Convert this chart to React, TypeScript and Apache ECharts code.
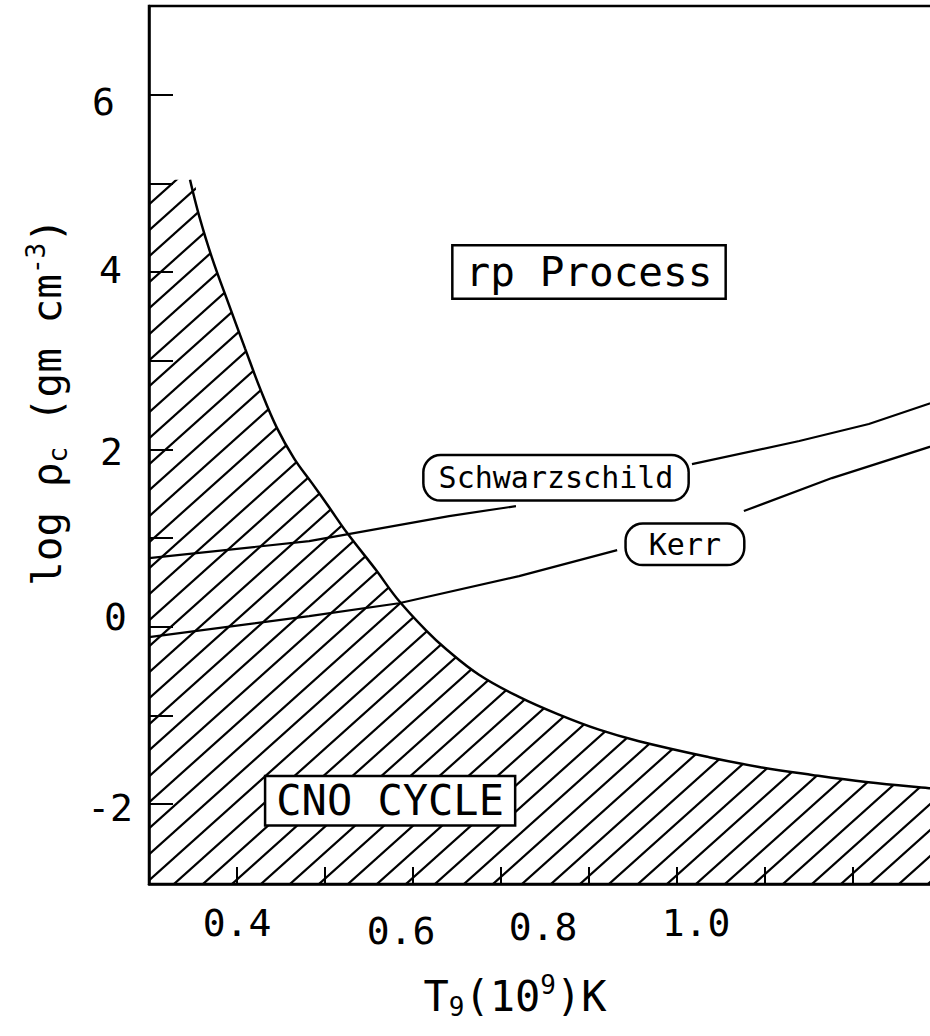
import { useEffect, useRef } from 'react';
import * as echarts from 'echarts';

// Boundary curve of the CNO-cycle (hatched) region
const curveT = [0.3466, 0.3568, 0.3716, 0.3909, 0.4091, 0.4273, 0.4455, 0.4648, 0.4852, 0.5045, 0.525, 0.558, 0.5818, 0.6148, 0.6375, 0.675, 0.7205, 0.7659, 0.8114, 0.8568, 0.9364, 0.9932, 1.0534, 1.1148, 1.1864, 1.2];
const curveLogRho = [5.04, 4.64, 4.16, 3.63, 3.14, 2.66, 2.24, 1.9, 1.62, 1.35, 1.06, 0.64, 0.32, -0.04, -0.25, -0.54, -0.79, -0.99, -1.16, -1.29, -1.47, -1.58, -1.67, -1.75, -1.82, -1.83];
const regionLeftT = 0.3;

// Schwarzschild line (broken behind its label after index 3)
const schwT = [0.3, 0.482, 0.641, 0.717, 0.917, 1.039, 1.118, 1.2];
const schwLogRho = [0.774, 0.966, 1.248, 1.361, 1.835, 2.095, 2.287, 2.56];
const schwGapAfter = 3;

// Kerr line (broken behind its label after index 4)
const kerrT = [0.3, 0.482, 0.584, 0.7205, 0.832, 0.976, 1.076, 1.2];
const kerrLogRho = [-0.117, 0.12, 0.266, 0.571, 0.865, 1.305, 1.677, 2.07];
const kerrGapAfter = 4;

// Annotations
const annText = ['rp Process', 'Schwarzschild', 'Kerr', 'CNO CYCLE'];
const annT = [0.8, 0.7625, 0.909, 0.574];
const annLogRho = [4.0, 1.68, 0.93, -1.96];

// Axes
const xTicks = [0.4, 0.5, 0.6, 0.7, 0.8, 0.9, 1.0, 1.1];
const xLabels = [0.4, 0.6, 0.8, 1.0];
const yTicks = [-2, -1, 0, 1, 2, 3, 4, 5, 6];
const yLabels = [-2, 0, 2, 4, 6];

const FONT = '"DejaVu Sans Mono", monospace';

function makeHatch() {
  const w = 29, h = 26;
  const c = document.createElement('canvas');
  c.width = w;
  c.height = h;
  const ctx = c.getContext('2d')!;
  ctx.strokeStyle = '#000';
  ctx.lineWidth = 2.2;
  for (const k of [-1, 0, 1]) {
    ctx.beginPath();
    ctx.moveTo(-w, h * (2 + k));
    ctx.lineTo(2 * w, h * (k - 1));
    ctx.stroke();
  }
  return { image: c, repeat: 'repeat', imageWidth: w, imageHeight: h };
}

function withGap(xs: number[], ys: number[], gapAfter: number) {
  const out: any[] = [];
  xs.forEach((x, i) => {
    out.push([x, ys[i]]);
    if (i === gapAfter) out.push([null, null]);
  });
  return out;
}

export default function App() {
  const ref = useRef<HTMLDivElement>(null);
  useEffect(() => {
    if (!ref.current) return;
    const chart = echarts.init(ref.current, null, { renderer: 'svg' });
    const areaData = [[regionLeftT, curveLogRho[0]], ...curveT.map((t, i) => [t, curveLogRho[i]])];
    const curveData = curveT.map((t, i) => [t, curveLogRho[i]]);

    const xRich: any = {
      a: { fontSize: 38, fontFamily: FONT, color: '#000', padding: [0, 0, 0, 0] },
      b: { fontSize: 38, fontFamily: FONT, color: '#000', padding: [8, 24, 0, 0] },
      c: { fontSize: 38, fontFamily: FONT, color: '#000', padding: [4, 92, 0, 0] },
      d: { fontSize: 38, fontFamily: FONT, color: '#000', padding: [0, 138, 8, 0] },
    };
    const xKey: Record<string, string> = { '0.4': 'a', '0.6': 'b', '0.8': 'c', '1.0': 'd' };
    const yRich: any = {
      p6: { fontSize: 38, fontFamily: FONT, color: '#000', padding: [14, 18, 0, 0] },
      p4: { fontSize: 38, fontFamily: FONT, color: '#000', padding: [0, 11, 4, 0] },
      p2: { fontSize: 38, fontFamily: FONT, color: '#000', padding: [6, 10, 0, 0] },
      p0: { fontSize: 38, fontFamily: FONT, color: '#000', padding: [0, 6, 20, 0] },
      pm2: { fontSize: 38, fontFamily: FONT, color: '#000', padding: [8, 0, 0, 0] },
    };
    const yKey: Record<string, string> = { '6': 'p6', '4': 'p4', '2': 'p2', '0': 'p0', '-2': 'pm2' };

    const nameRich = (size: number) => ({
      n: { fontSize: size, fontFamily: FONT, color: '#000', lineHeight: 48 },
      s: { fontSize: 26, fontFamily: FONT, color: '#000', verticalAlign: 'bottom', lineHeight: 26 },
      p: { fontSize: 26, fontFamily: FONT, color: '#000', verticalAlign: 'top', lineHeight: 26 },
    });

    const boxStyles = [
      { fontSize: 41, borderRadius: 0, padding: [6, 12, 4, 12] },
      { fontSize: 30, borderRadius: 16, padding: [7, 14, 6, 14] },
      { fontSize: 30, borderRadius: 16, padding: [5, 22, 4, 22] },
      { fontSize: 42, borderRadius: 0, padding: [3, 10, 2, 10] },
    ];

    chart.setOption({
      animation: false,
      backgroundColor: '#fff',
      grid: {
        left: 149, top: 6, width: 792, height: 878,
        show: true, borderColor: '#000', borderWidth: 2.5, backgroundColor: 'transparent',
        containLabel: false, outerBoundsMode: 'none',
      },
      xAxis: {
        type: 'value', min: 0.3, max: 1.2,
        axisLine: { onZero: false, lineStyle: { color: '#000', width: 2.5 } },
        axisTick: { inside: true, length: 17, customValues: xTicks, lineStyle: { color: '#000', width: 2 } },
        axisLabel: {
          customValues: xLabels, margin: 20, color: '#000', fontSize: 38, fontFamily: FONT,
          formatter: (v: number) => { const k = v.toFixed(1); return `{${xKey[k] || 'a'}|${k}}`; },
          rich: xRich,
        },
        splitLine: { show: false },
        name: '{n|T}{s|9}{n|(10}{p|9}{n|)K}',
        nameLocation: 'middle', nameGap: 88,
        nameTextStyle: { rich: nameRich(42), padding: [0, 60, 0, 0] },
      },
      yAxis: {
        type: 'value', min: -2.9, max: 7,
        axisLine: { onZero: false, lineStyle: { color: '#000', width: 2.5 } },
        axisTick: { inside: true, length: 24, customValues: yTicks, lineStyle: { color: '#000', width: 2 } },
        axisLabel: {
          customValues: yLabels, margin: 16, color: '#000', fontSize: 38, fontFamily: FONT,
          formatter: (v: number) => { const k = String(Math.round(v)); return `{${yKey[k] || 'p0'}|${k}}`; },
          rich: yRich,
        },
        splitLine: { show: false },
        name: '{n|log ρ}{s|c}{n| (gm cm}{p|-3}{n|)}',
        nameLocation: 'middle', nameGap: 78,
        nameTextStyle: { rich: nameRich(41), padding: [0, 0, 0, 86] },
      },
      series: [
        {
          type: 'line', data: areaData, symbol: 'none', smooth: 0.4,
          lineStyle: { width: 0 }, areaStyle: { color: makeHatch(), opacity: 1, origin: 'start' }, z: 1,
        },
        {
          type: 'line', data: curveData, symbol: 'none', smooth: 0.4,
          lineStyle: { color: '#000', width: 2.5 }, z: 3,
        },
        {
          type: 'line', data: withGap(schwT, schwLogRho, schwGapAfter), symbol: 'none', connectNulls: false,
          lineStyle: { color: '#000', width: 2.2 }, z: 3,
        },
        {
          type: 'line', data: withGap(kerrT, kerrLogRho, kerrGapAfter), symbol: 'none', connectNulls: false,
          lineStyle: { color: '#000', width: 2.2 }, z: 3,
        },
        {
          type: 'scatter', symbolSize: 1, silent: true, z: 10,
          itemStyle: { color: 'rgba(0,0,0,0)', opacity: 1 },
          emphasis: { disabled: true },
          data: annText.map((t, i) => ({
            value: [annT[i], annLogRho[i]],
            label: {
              show: true, position: 'inside', formatter: t, color: '#000',
              fontFamily: FONT, fontSize: boxStyles[i].fontSize,
              textBorderWidth: 0, textShadowBlur: 0, opacity: 1,
              backgroundColor: '#fff', borderColor: '#000', borderWidth: 2.5,
              borderRadius: boxStyles[i].borderRadius, padding: boxStyles[i].padding,
            },
          })),
        },
      ],
    });
    return () => chart.dispose();
  }, []);
  return (
    <div style={{ position: 'absolute', left: 0, top: 0, width: 930, height: 1036, overflow: 'hidden', background: '#fff' }}>
      <div ref={ref} style={{ width: 960, height: 1036 }} />
    </div>
  );
}
